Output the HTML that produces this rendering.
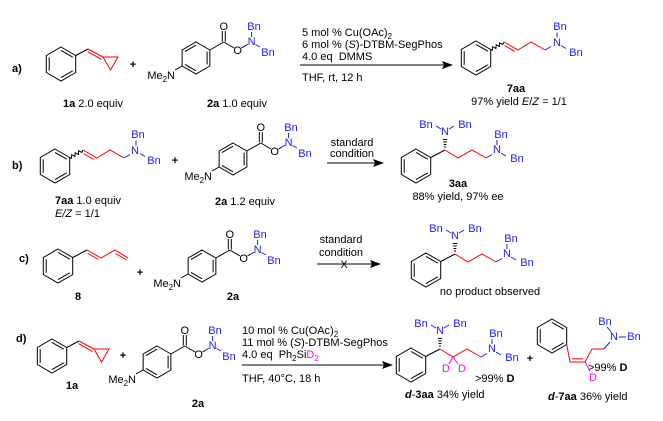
<!DOCTYPE html>
<html><head><meta charset="utf-8"><style>
html,body{margin:0;padding:0;background:#fff;}
svg{display:block;font-family:"Liberation Sans",Arial,sans-serif;}
text{font-size:11px;}
.b{fill:#1a1aff;}
.k{fill:#000;}
.bold{font-weight:bold;}
</style></head><body>
<svg width="663" height="421" viewBox="0 0 663 421" xmlns="http://www.w3.org/2000/svg">
<defs>
<g id="bz" fill="none" stroke="#000" stroke-width="1">
<polygon points="0,-17 14.7,-8.5 14.7,8.5 0,17 -14.7,8.5 -14.7,-8.5"/>
<line x1="-11.8" y1="-6.8" x2="-11.8" y2="6.8"/>
<line x1="0" y1="-13.6" x2="11.8" y2="-6.8"/>
<line x1="0" y1="13.6" x2="11.8" y2="6.8"/>
</g>
<g id="bz2" fill="none" stroke="#000" stroke-width="1">
<polygon points="0,-16 13.86,-8 13.86,8 0,16 -13.86,8 -13.86,-8"/>
<line x1="11.1" y1="-6.4" x2="11.1" y2="6.4"/>
<line x1="0" y1="12.8" x2="-11.1" y2="6.4"/>
<line x1="-11.1" y1="-6.4" x2="0" y2="-12.8"/>
</g>
<g id="cp">
<use href="#bz"/>
<line x1="14.7" y1="-8.5" x2="27" y2="-15" stroke="#000"/>
<g stroke="#f00" fill="none">
<line x1="27" y1="-15" x2="42" y2="-7"/>
<line x1="26.6" y1="-12.4" x2="40.6" y2="-4.4"/>
<polygon points="42,-7 57,-7 49.5,6"/>
</g>
</g>
<g id="a2r" stroke-width="1" fill="none">
<use href="#bz2"/>
<g stroke="#000">
<line x1="13.9" y1="-8" x2="27.8" y2="-16"/>
<line x1="26.3" y1="-16.5" x2="26.3" y2="-27"/>
<line x1="29.3" y1="-16.5" x2="29.3" y2="-27"/>
<line x1="27.8" y1="-16" x2="38" y2="-10"/>
<line x1="-13.9" y1="8" x2="-21" y2="12"/>
<line x1="45.5" y1="-10" x2="48.5" y2="-11.8"/>
</g>
<g stroke="#1a1aff">
<line x1="48.5" y1="-11.8" x2="52" y2="-13.8"/>
<line x1="55.6" y1="-21" x2="55.6" y2="-26"/>
<line x1="59.5" y1="-13.5" x2="64" y2="-11"/>
</g>
</g>
<g id="c7" fill="none" stroke-width="1">
<use href="#bz"/>
<polyline stroke="#000" points="14.7,-8.5 16.4,-7.7 16.7,-11.3 19.9,-9.6 20.2,-13.2 23.4,-11.6 23.6,-15.2 26.8,-13.6 28,-16"/>
<polyline stroke="#f00" points="28,-16 42,-8 55,-16 69,-8"/>
<line stroke="#f00" x1="28.5" y1="-12.5" x2="38.8" y2="-6.6"/>
<line stroke="#1a1aff" x1="69" y1="-8" x2="75" y2="-11.5"/>
<line stroke="#1a1aff" x1="81" y1="-20.5" x2="81" y2="-25.5"/>
<line stroke="#1a1aff" x1="85" y1="-12.5" x2="90" y2="-9.5"/>
</g>
<g id="c3" fill="none" stroke-width="1">
<use href="#bz"/>
<line stroke="#000" x1="14.7" y1="-8.5" x2="29" y2="-16"/>
<g stroke="#000">
<line x1="28" y1="-19" x2="30" y2="-19"/>
<line x1="27.6" y1="-21.5" x2="30.4" y2="-21.5"/>
<line x1="27.2" y1="-24" x2="30.8" y2="-24"/>
<line x1="26.8" y1="-26.5" x2="31.2" y2="-26.5"/>
</g>
<polyline stroke="#f00" points="29,-16 42,-8 56,-16 70,-8"/>
<line stroke="#1a1aff" x1="70" y1="-8" x2="76" y2="-11.5"/>
<line stroke="#1a1aff" x1="25" y1="-37" x2="20" y2="-40"/>
<line stroke="#1a1aff" x1="33" y1="-37" x2="38" y2="-40"/>
<line stroke="#1a1aff" x1="81" y1="-21" x2="81" y2="-26"/>
<line stroke="#1a1aff" x1="85" y1="-13" x2="90" y2="-10"/>
</g>
</defs>

<!-- Row a -->
<text x="12" y="72" class="bold" font-size="11">a)</text>
<use href="#cp" x="61" y="64"/>
<text x="133" y="68" text-anchor="middle" class="bold">+</text>
<g transform="translate(196,58)">
<use href="#a2r"/>
<text x="27.8" y="-31" text-anchor="middle" dominant-baseline="central">O</text>
<text x="41.7" y="-7" text-anchor="middle" dominant-baseline="central">O</text>
<text x="55.6" y="-16" text-anchor="middle" dominant-baseline="central" class="b">N</text>
<text x="58" y="-31" text-anchor="middle" dominant-baseline="central" class="b">Bn</text>
<text x="72" y="-5" text-anchor="middle" dominant-baseline="central" class="b">Bn</text>
<text x="-21" y="21" text-anchor="end">Me<tspan font-size="8" dy="3">2</tspan><tspan dy="-3">N</tspan></text>
</g>
<text x="63" y="107"><tspan class="bold">1a</tspan> 2.0 equiv</text>
<text x="207" y="107"><tspan class="bold">2a</tspan> 1.0 equiv</text>
<text x="302" y="36">5 mol % Cu(OAc)<tspan font-size="8" dy="3">2</tspan></text>
<text x="302" y="48">6 mol % (<tspan font-style="italic">S</tspan>)-DTBM-SegPhos</text>
<text x="302" y="60">4.0 eq&#160; DMMS</text>
<line x1="300" y1="65" x2="445" y2="65" stroke="#000"/>
<polygon points="453,65 442,61 444,65 442,69" fill="#000"/>
<text x="302" y="81">THF, rt, 12 h</text>
<g transform="translate(476,58)">
<use href="#c7"/>
<text x="81" y="-15" text-anchor="middle" dominant-baseline="central" class="b">N</text>
<text x="84" y="-31" text-anchor="middle" dominant-baseline="central" class="b">Bn</text>
<text x="100" y="-5" text-anchor="middle" dominant-baseline="central" class="b">Bn</text>
</g>
<text x="516" y="92" text-anchor="middle" class="bold">7aa</text>
<text x="519" y="105" text-anchor="middle">97% yield <tspan font-style="italic">E</tspan>/<tspan font-style="italic">Z</tspan> = 1/1</text>

<!-- Row b -->
<text x="12" y="169" class="bold">b)</text>
<g transform="translate(55,166)">
<use href="#c7"/>
<text x="80" y="-15" text-anchor="middle" dominant-baseline="central" class="b">N</text>
<text x="83" y="-31" text-anchor="middle" dominant-baseline="central" class="b">Bn</text>
<text x="99" y="-5" text-anchor="middle" dominant-baseline="central" class="b">Bn</text>
</g>
<text x="175" y="164" text-anchor="middle" class="bold">+</text>
<g transform="translate(233,159)">
<use href="#a2r"/>
<text x="27.8" y="-31" text-anchor="middle" dominant-baseline="central">O</text>
<text x="41.7" y="-7" text-anchor="middle" dominant-baseline="central">O</text>
<text x="55.6" y="-16" text-anchor="middle" dominant-baseline="central" class="b">N</text>
<text x="58" y="-31" text-anchor="middle" dominant-baseline="central" class="b">Bn</text>
<text x="72" y="-5" text-anchor="middle" dominant-baseline="central" class="b">Bn</text>
<text x="-21" y="21" text-anchor="end">Me<tspan font-size="8" dy="3">2</tspan><tspan dy="-3">N</tspan></text>
</g>
<text x="55" y="204"><tspan class="bold">7aa</tspan> 1.0 equiv</text>
<text x="55" y="217" font-style="italic">E/Z<tspan font-style="normal"> = 1/1</tspan></text>
<text x="215" y="205"><tspan class="bold">2a</tspan> 1.2 equiv</text>
<text x="352" y="146" text-anchor="middle">standard</text>
<text x="352" y="157" text-anchor="middle">condition</text>
<line x1="327" y1="163" x2="376" y2="163" stroke="#000"/>
<polygon points="384,163 373,159 375,163 373,167" fill="#000"/>
<g transform="translate(416,166)">
<use href="#c3"/>
<text x="29" y="-34" text-anchor="middle" dominant-baseline="central" class="b">N</text>
<text x="10" y="-41" text-anchor="middle" dominant-baseline="central" class="b">Bn</text>
<text x="49" y="-41" text-anchor="middle" dominant-baseline="central" class="b">Bn</text>
<text x="81" y="-16" text-anchor="middle" dominant-baseline="central" class="b">N</text>
<text x="85" y="-31" text-anchor="middle" dominant-baseline="central" class="b">Bn</text>
<text x="101" y="-7" text-anchor="middle" dominant-baseline="central" class="b">Bn</text>
</g>
<text x="458" y="187" text-anchor="middle" class="bold">3aa</text>
<text x="458" y="200" text-anchor="middle">88% yield, 97% ee</text>

<!-- Row c -->
<text x="19" y="262" class="bold">c)</text>
<g transform="translate(58,266)" fill="none" stroke-width="1">
<use href="#bz"/>
<line stroke="#000" x1="14.7" y1="-8.5" x2="29" y2="-16"/>
<polyline stroke="#f00" points="29,-16 43,-8 57,-16 70,-8"/>
<line stroke="#f00" x1="30" y1="-12.5" x2="40.5" y2="-6.5"/>
<line stroke="#f00" x1="57.5" y1="-12.5" x2="68.5" y2="-6"/>
</g>
<text x="140" y="276" text-anchor="middle" class="bold">+</text>
<g transform="translate(202,266)">
<use href="#a2r"/>
<text x="27.8" y="-31" text-anchor="middle" dominant-baseline="central">O</text>
<text x="41.7" y="-7" text-anchor="middle" dominant-baseline="central">O</text>
<text x="55.6" y="-16" text-anchor="middle" dominant-baseline="central" class="b">N</text>
<text x="58" y="-31" text-anchor="middle" dominant-baseline="central" class="b">Bn</text>
<text x="72" y="-5" text-anchor="middle" dominant-baseline="central" class="b">Bn</text>
<text x="-21" y="21" text-anchor="end">Me<tspan font-size="8" dy="3">2</tspan><tspan dy="-3">N</tspan></text>
</g>
<text x="78" y="300" text-anchor="middle" class="bold">8</text>
<text x="233" y="300" text-anchor="middle" class="bold">2a</text>
<text x="341" y="243" text-anchor="middle">standard</text>
<text x="341" y="256" text-anchor="middle">condition</text>
<line x1="317" y1="264" x2="373" y2="264" stroke="#000"/>
<polygon points="381,264 370,260 372,264 370,268" fill="#000"/>
<text x="344" y="268" text-anchor="middle" font-size="10">X</text>
<g transform="translate(426,270)">
<use href="#c3"/>
<text x="29" y="-34" text-anchor="middle" dominant-baseline="central" class="b">N</text>
<text x="10" y="-41" text-anchor="middle" dominant-baseline="central" class="b">Bn</text>
<text x="49" y="-41" text-anchor="middle" dominant-baseline="central" class="b">Bn</text>
<text x="81" y="-16" text-anchor="middle" dominant-baseline="central" class="b">N</text>
<text x="85" y="-31" text-anchor="middle" dominant-baseline="central" class="b">Bn</text>
<text x="101" y="-7" text-anchor="middle" dominant-baseline="central" class="b">Bn</text>
</g>
<text x="490" y="295" text-anchor="middle">no product observed</text>

<!-- Row d -->
<text x="16" y="342" class="bold">d)</text>
<use href="#cp" x="52" y="356"/>
<text x="123" y="359" text-anchor="middle" class="bold">+</text>
<g transform="translate(157,362)">
<use href="#a2r"/>
<text x="27.8" y="-31" text-anchor="middle" dominant-baseline="central">O</text>
<text x="41.7" y="-7" text-anchor="middle" dominant-baseline="central">O</text>
<text x="55.6" y="-16" text-anchor="middle" dominant-baseline="central" class="b">N</text>
<text x="58" y="-31" text-anchor="middle" dominant-baseline="central" class="b">Bn</text>
<text x="72" y="-5" text-anchor="middle" dominant-baseline="central" class="b">Bn</text>
<text x="-21" y="21" text-anchor="end">Me<tspan font-size="8" dy="3">2</tspan><tspan dy="-3">N</tspan></text>
</g>
<text x="72" y="389" text-anchor="middle" class="bold">1a</text>
<text x="198" y="407" text-anchor="middle" class="bold">2a</text>
<text x="242" y="334">10 mol % Cu(OAc)<tspan font-size="8" dy="3">2</tspan></text>
<text x="242" y="346">11 mol % (<tspan font-style="italic">S</tspan>)-DTBM-SegPhos</text>
<text x="242" y="358">4.0 eq&#160; Ph<tspan font-size="8" dy="3">2</tspan><tspan dy="-3">Si</tspan><tspan fill="#f0f">D</tspan><tspan font-size="8" dy="3" fill="#f0f">2</tspan></text>
<line x1="242" y1="365" x2="385" y2="365" stroke="#000"/>
<polygon points="393,365 382,361 384,365 382,369" fill="#000"/>
<text x="242" y="382">THF, 40°C, 18 h</text>
<g transform="translate(411,365)">
<use href="#c3"/>
<line stroke="#f0f" x1="42" y1="-8" x2="38" y2="-1"/>
<line stroke="#f0f" x1="42" y1="-8" x2="47" y2="-1"/>
<text x="35" y="4" text-anchor="middle" dominant-baseline="central" fill="#f0f">D</text>
<text x="51" y="4" text-anchor="middle" dominant-baseline="central" fill="#f0f">D</text>
<text x="29" y="-34" text-anchor="middle" dominant-baseline="central" class="b">N</text>
<text x="10" y="-41" text-anchor="middle" dominant-baseline="central" class="b">Bn</text>
<text x="49" y="-41" text-anchor="middle" dominant-baseline="central" class="b">Bn</text>
<text x="81" y="-16" text-anchor="middle" dominant-baseline="central" class="b">N</text>
<text x="85" y="-31" text-anchor="middle" dominant-baseline="central" class="b">Bn</text>
<text x="101" y="-7" text-anchor="middle" dominant-baseline="central" class="b">Bn</text>
</g>
<text x="475" y="382">&gt;99% <tspan class="bold">D</tspan></text>
<text x="405" y="398"><tspan font-style="italic" class="bold">d</tspan>-<tspan class="bold">3aa</tspan> 34% yield</text>
<text x="530" y="362" text-anchor="middle" class="bold">+</text>
<g fill="none" stroke-width="1">
<use href="#bz" x="552" y="336"/>
<polyline stroke="#f00" points="566.7,344.5 570,362 585,362 592,349 604,349"/>
<line stroke="#f00" x1="572" y1="358.8" x2="583" y2="358.8"/>
<line stroke="#1a1aff" x1="604" y1="349" x2="610" y2="342"/>
<line stroke="#1a1aff" x1="611" y1="332" x2="607" y2="327"/>
<line stroke="#1a1aff" x1="619" y1="337" x2="626" y2="337"/>
<line stroke="#f0f" x1="585" y1="362" x2="590" y2="371"/>
</g>
<text x="614" y="337" text-anchor="middle" dominant-baseline="central" class="b">N</text>
<text x="605" y="322" text-anchor="middle" dominant-baseline="central" class="b">Bn</text>
<text x="634" y="337" text-anchor="middle" dominant-baseline="central" class="b">Bn</text>
<text x="593" y="378" text-anchor="middle" dominant-baseline="central" fill="#f0f">D</text>
<text x="588" y="371">&gt;99% <tspan class="bold">D</tspan></text>
<text x="548" y="400"><tspan font-style="italic" class="bold">d</tspan>-<tspan class="bold">7aa</tspan> 36% yield</text>
</svg>
</body></html>
